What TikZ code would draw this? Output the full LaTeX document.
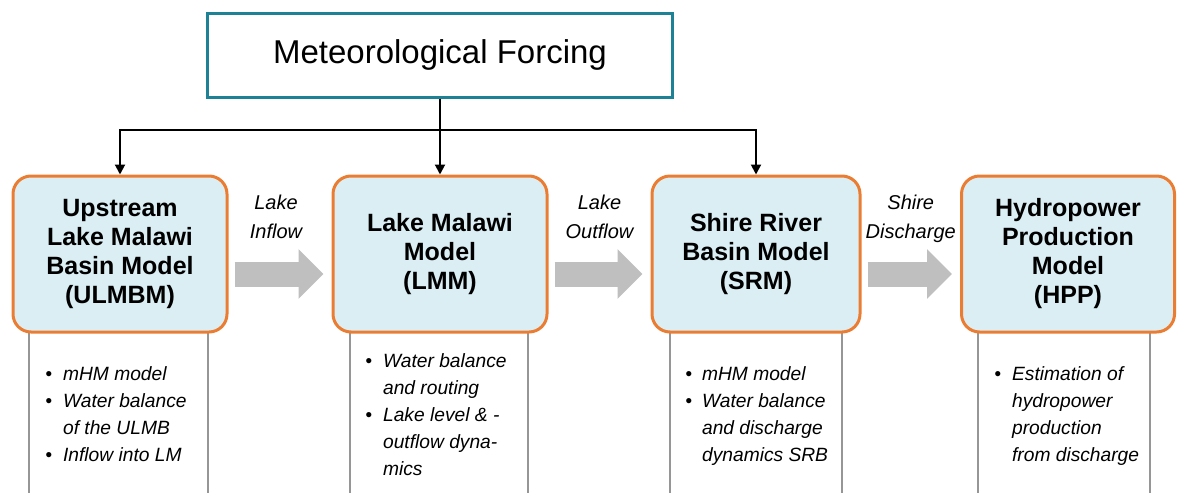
\documentclass[tikz,border=0pt]{standalone}
\usepackage{fontspec}
\setmainfont{Liberation Sans}
\usetikzlibrary{arrows.meta}
\definecolor{forcingteal}{RGB}{30,130,150}
\definecolor{boxorange}{RGB}{235,125,50}
\definecolor{boxfill}{RGB}{218,238,244}
\definecolor{flowgray}{RGB}{191,191,191}
\definecolor{sidegray}{RGB}{150,150,150}
\tikzstyle{link} = [line width=1pt,-{Triangle[length=5pt,width=5pt]}]

\begin{document}
\begin{tikzpicture}[x=0.5pt,y=-0.5pt]
\useasboundingbox (0,0) rectangle (1182,493);

\tikzstyle{mdl} = [rectangle, rounded corners=9pt, draw=boxorange, line width=1.5pt, fill=boxfill, minimum width=107pt, minimum height=78pt, align=center, font=\fontsize{12.5}{14.5}\selectfont\bfseries]
\tikzstyle{desc} = [inner sep=0pt, anchor=west, font=\fontsize{9.6}{13.5}\selectfont\itshape]
\tikzstyle{flow} = [draw=flowgray, line width=12.5pt, -{Triangle[length=12.5pt,width=24pt]}, shorten <=3pt, shorten >=4pt]
\tikzstyle{lbl} = [above=9pt, align=center, inner sep=0pt, text depth=2.5pt, font=\fontsize{10}{14.5}\selectfont\itshape]
\tikzstyle{side} = [draw=sidegray, line width=1pt]

% side lines of the description columns
\foreach \a/\b in {29/208,350/528,670/842,978/1150}
  \draw[side] (\a,330) -- (\a,493) (\b,330) -- (\b,493);

\node[draw=forcingteal, line width=1.5pt, minimum width=232.5pt, minimum height=42pt, font=\fontsize{16.5}{19}\selectfont](F)at(440,55){Meteorological Forcing};

\node[mdl](U)at(120,254){Upstream\\Lake Malawi\\Basin Model\\(ULMBM)};
\node[mdl](L)at(440,254){Lake Malawi\\Model\\(LMM)};
\node[mdl, minimum width=104pt](S)at(756,254){Shire River\\Basin Model\\(SRM)};
\node[mdl, minimum width=106.5pt](H)at(1068,254){Hydropower\\Production\\Model\\(HPP)};

\node[desc](Ud)at(45,416){\begin{tabular}{@{}l@{\hspace{5.5pt}}l@{}}
\textbullet & mHM model\\ \textbullet & Water balance\\ & of the ULMB\\ \textbullet & Inflow into LM\end{tabular}};
\node[desc](Ld)at(365,416){\begin{tabular}{@{}l@{\hspace{5.5pt}}l@{}}
\textbullet & Water balance\\ & and routing\\ \textbullet & Lake level \& -\\ & outflow dyna-\\ & mics\end{tabular}};
\node[desc](Sd)at(685,416){\begin{tabular}{@{}l@{\hspace{5pt}}l@{}}
\textbullet & mHM model\\ \textbullet & Water balance\\ & and discharge\\ & dynamics SRB\end{tabular}};
\node[desc](Hd)at(994,416){\begin{tabular}{@{}l@{\hspace{5.5pt}}l@{}}
\textbullet & Estimation of\\ & hydropower\\ & production\\ & from discharge\end{tabular}};

\coordinate (split) at (440,130);
\draw[link](F) -- (L);
\draw[link](split) -| (U);
\draw[link](split) -| (S);

\draw[flow]([yshift=-10pt]U.east) -- node[lbl, xshift=-2pt]{Lake\\Inflow} ([yshift=-10pt]L.west);
\draw[flow]([yshift=-10pt]L.east) -- node[lbl]{Lake\\Outflow} ([yshift=-10pt]S.west);
\draw[flow]([yshift=-10pt]S.east) -- node[lbl]{Shire\\Discharge} ([yshift=-10pt]H.west);

\end{tikzpicture}
\end{document}
